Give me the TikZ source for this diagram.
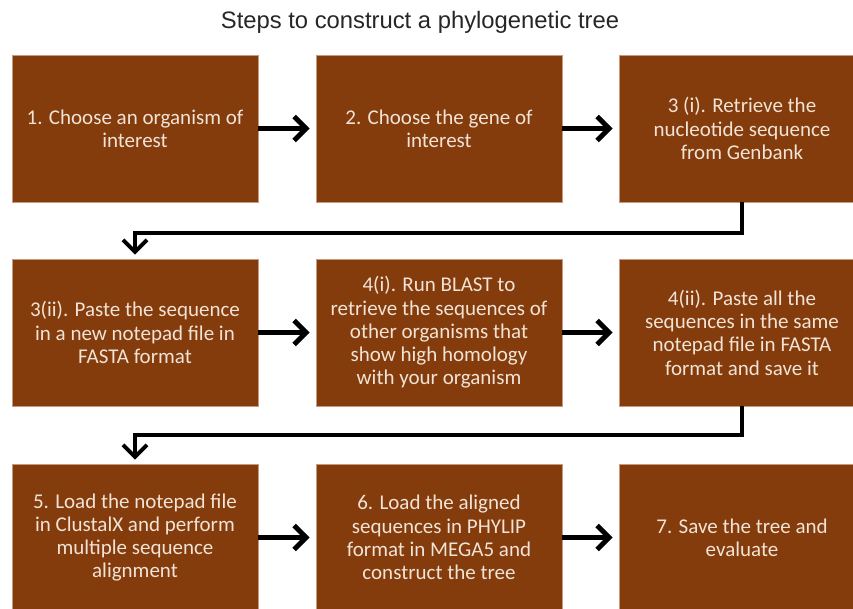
\documentclass[tikz,border=0pt]{standalone}
\usepackage{fontspec}
\setmainfont{Carlito}
\newfontfamily\titlefont{Liberation Sans}
\usetikzlibrary{arrows.meta}
\definecolor{boxbrown}{HTML}{843C0C}
\definecolor{boxedge}{HTML}{C89A7C}
\definecolor{boxtext}{HTML}{F1E3D6}
\definecolor{titlegray}{HTML}{262626}
\tikzset{
  stepbox/.style={fill=boxbrown, draw=boxedge, line width=0.6pt,
    minimum width=246pt, minimum height=147pt, inner sep=0pt,
    text=boxtext, align=center, font=\fontsize{21}{23.3}\selectfont},
  flowarrow/.style={line width=5pt, -{Straight Barb[length=12pt,width=24pt]}, shorten >=6pt},
  turnarrow/.style={line width=4pt, -{Straight Barb[length=12pt,width=24pt]}, shorten >=4pt},
  titletext/.style={font=\titlefont\fontsize{23.8}{28}\selectfont, text=titlegray}
}
\begin{document}
\begin{tikzpicture}[x=1pt,y=-1pt]
\useasboundingbox (0,0) rectangle (853,608);
\clip (0,0) rectangle (853,608);
\node[titletext] (title) at (420,22) {Steps to construct a phylogenetic tree};
\node[stepbox] (s1) at (135,128.5) {1. Choose an organism of\\interest};
\node[stepbox] (s2) at (439,128.5) {2. Choose the gene of\\interest};
\node[stepbox] (s3) at (742,128.5) {3 (i). Retrieve the\\nucleotide sequence\\from Genbank};
\node[stepbox] (s4) at (135,332.5) {3(ii). Paste the sequence\\in a new notepad file in\\FASTA format};
\node[stepbox] (s5) at (439,332.5) {4(i). Run BLAST to\\retrieve the sequences of\\other organisms that\\show high homology\\with your organism};
\node[stepbox] (s6) at (742,332.5) {4(ii). Paste all the\\sequences in the same\\notepad file in FASTA\\format and save it};
\node[stepbox] (s7) at (135,537.5) {5. Load the notepad file\\in ClustalX and perform\\multiple sequence\\alignment};
\node[stepbox] (s8) at (439,537.5) {6. Load the aligned\\sequences in PHYLIP\\format in MEGA5 and\\construct the tree};
\node[stepbox] (s9) at (742,537.5) {7. Save the tree and\\evaluate};
\draw[flowarrow] (s1) -- (s2);
\draw[flowarrow] (s2) -- (s3);
\draw[flowarrow] (s4) -- (s5);
\draw[flowarrow] (s5) -- (s6);
\draw[flowarrow] (s7) -- (s8);
\draw[flowarrow] (s8) -- (s9);
\draw[turnarrow] (s3.south) -- ++(0,31) -| (s4.north);
\draw[turnarrow] (s6.south) -- ++(0,29) -| (s7.north);
\end{tikzpicture}
\end{document}
